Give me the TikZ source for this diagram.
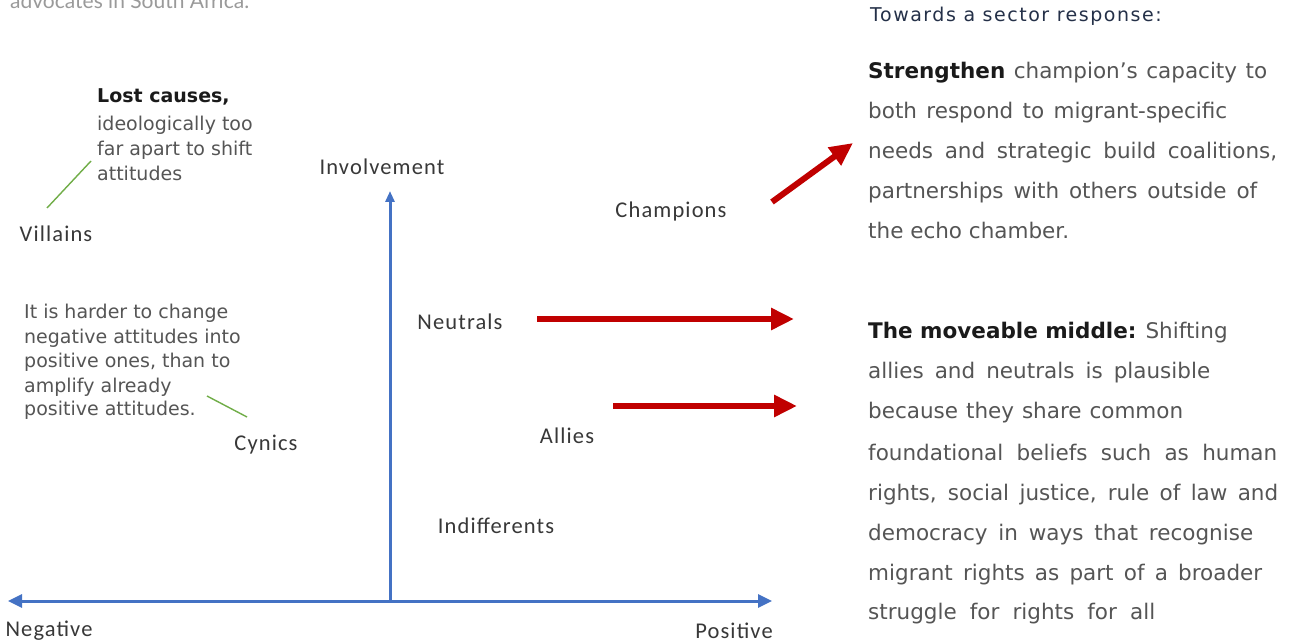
\documentclass[tikz,border=0pt]{standalone}
\usepackage{fontspec}
\setmainfont{DejaVu Sans}
\newfontfamily\labfont[LetterSpace=5]{Carlito}
\newfontfamily\handfont{DejaVu Sans}
\newfontfamily\titlefont[LetterSpace=8]{DejaVu Sans}
\newfontfamily\topfont{Lato}
\usetikzlibrary{arrows.meta}
\definecolor{axisblue}{HTML}{4472C4}
\definecolor{arrred}{HTML}{C00000}
\definecolor{leafgreen}{HTML}{70AD47}
\definecolor{labgray}{HTML}{383838}
\definecolor{handgray}{HTML}{555555}
\definecolor{handblack}{HTML}{1A1A1A}
\definecolor{titlenavy}{HTML}{243048}
\definecolor{topgray}{HTML}{9A9A9A}
\begin{document}
\begin{tikzpicture}[x=1pt,y=-1pt,
  lab/.style={inner sep=0pt,anchor=center,text=labgray,font=\labfont\fontsize{22.5}{27}\selectfont},
  handl/.style={inner sep=0pt,anchor=base west,text=handgray,font=\handfont\fontsize{19}{24}\selectfont},
  handr/.style={inner sep=0pt,anchor=base west,text=handgray,font=\handfont\fontsize{21.5}{26}\selectfont},
  axis/.style={draw=axisblue,line width=3pt},
  bigarrow/.style={draw=arrred,line width=6pt,-{Triangle[length=23pt,width=21pt]}},
  leader/.style={draw=leafgreen,line width=1.4pt},
  boldhand/.style={text=handblack,font=\handfont\bfseries\fontsize{19}{24}\selectfont}
]
\useasboundingbox (0,0) rectangle (1294,644);
\fill[white] (0,0) rectangle (1294,644);

% cut-off caption at the top
\node[inner sep=0pt,anchor=base west,text=topgray,font=\topfont\fontsize{21}{25}\selectfont] (cap) at (10,9) {advocates in South Africa.};

% axes
\coordinate (O) at (390,601);
\coordinate (L) at (8,601);
\coordinate (R) at (772,601);
\coordinate (T) at (390,191);
\draw[axis,{Triangle[length=14pt,width=13pt]}-{Triangle[length=14pt,width=13pt]}] (L) -- (R);
\draw[axis,-{Triangle[length=11pt,width=9pt]}] (O) -- (T);

% labels
\node[lab] (inv) at (382,167) {Involvement};
\node[lab] (vil) at (56,234) {Villains};
\node[lab] (cha) at (671,212) {Champions};
\node[lab] (neu) at (460,322) {Neutrals};
\node[lab] (all) at (567,436) {Allies};
\node[lab] (cyn) at (266,445) {Cynics};
\node[lab] (ind) at (496,526) {Indifferents};
\node[lab] (neg) at (49,631) {Negative};
\node[lab] (pos) at (734,631) {Positive};

% red arrows
\coordinate (chaA) at (772,202);
\coordinate (chaB) at (853,143);
\coordinate (neuA) at (537,319);
\coordinate (neuB) at (794,319);
\coordinate (allA) at (613,406);
\coordinate (allB) at (797,406);
\draw[bigarrow] (chaA) -- (chaB);
\draw[bigarrow] (neuA) -- (neuB);
\draw[bigarrow] (allA) -- (allB);

% handwritten notes, left
\node[handl,boldhand] (lc1) at (97,103) {Lost causes,};
\node[handl] (lc2) at (97,131) {ideologically too};
\node[handl] (lc3) at (97,156) {far apart to shift};
\node[handl] (lc4) at (97,181) {attitudes};
\coordinate (gv1) at (47,208);
\coordinate (gv2) at (91,161);
\draw[leader] (gv1) -- (gv2);

\node[handl] (hc1) at (24,319) {It is harder to change};
\node[handl] (hc2) at (24,344) {negative attitudes into};
\node[handl] (hc3) at (24,368) {positive ones, than to};
\node[handl] (hc4) at (24,392) {amplify already};
\node[handl] (hc5) at (24,416) {positive attitudes.};
\coordinate (gc1) at (207,396);
\coordinate (gc2) at (247,417);
\draw[leader] (gc1) -- (gc2);

% right column
\node[inner sep=0pt,anchor=base west,text=titlenavy,font=\titlefont\fontsize{19}{24}\selectfont] (ttl) at (870,22) {Towards a sector response:};

\node[handr] (s1) at (868,79) {\makebox[399pt][s]{{\color{handblack}\bfseries Strengthen} champion’s capacity to}};
\node[handr] (s2) at (868,119) {\makebox[359pt][s]{both respond to migrant-specific}};
\node[handr] (s3) at (868,159) {\makebox[409pt][s]{needs and strategic build coalitions,}};
\node[handr] (s4) at (868,199) {\makebox[389pt][s]{partnerships with others outside of}};
\node[handr] (s5) at (868,239) {the echo chamber.};

\node[handr] (m1) at (868,339) {{\color{handblack}\bfseries The moveable middle:} Shifting};
\node[handr] (m2) at (868,379) {\makebox[342pt][s]{allies and neutrals is plausible}};
\node[handr] (m3) at (868,419) {\makebox[315pt][s]{because they share common}};
\node[handr] (m4) at (868,460) {\makebox[409pt][s]{foundational beliefs such as human}};
\node[handr] (m5) at (868,500) {\makebox[410pt][s]{rights, social justice, rule of law and}};
\node[handr] (m6) at (868,540) {\makebox[385pt][s]{democracy in ways that recognise}};
\node[handr] (m7) at (868,580) {\makebox[394pt][s]{migrant rights as part of a broader}};
\node[handr] (m8) at (868,619) {\makebox[287pt][s]{struggle for rights for all}};
\end{tikzpicture}
\end{document}
